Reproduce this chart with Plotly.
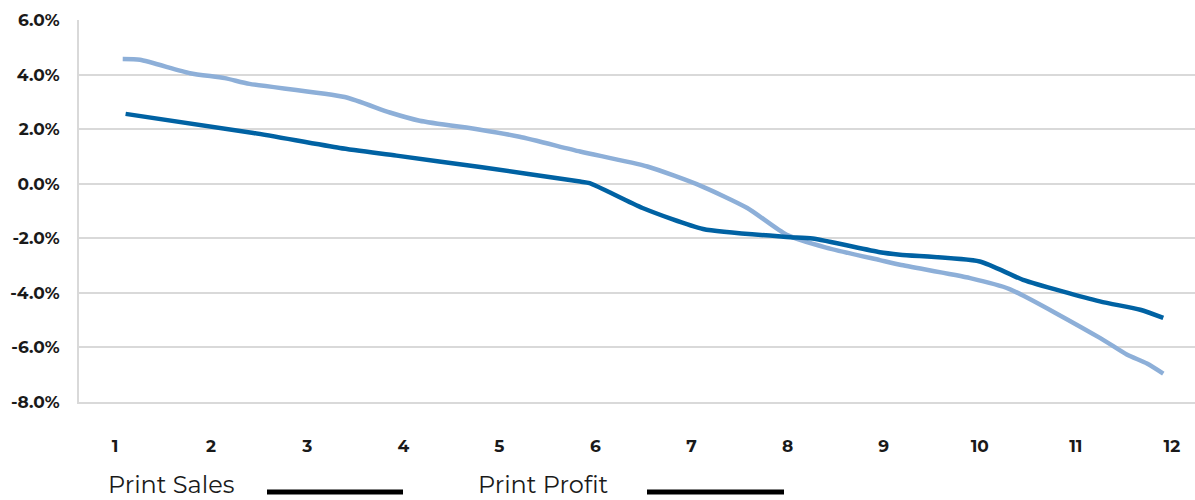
import plotly.graph_objects as go

# x positions (month index, fractional) and values in %
sales_x = [1.08, 1.26, 1.78, 2.14, 2.40, 3.39, 3.86, 4.17, 4.80, 5.21, 5.84, 6.54, 7.09, 7.58, 7.99, 8.40, 8.96, 9.17, 9.90, 10.31, 11.25, 11.53, 11.74, 11.91]
sales_y = [4.57, 4.54, 4.05, 3.87, 3.66, 3.18, 2.61, 2.31, 1.98, 1.72, 1.18, 0.63, -0.07, -0.89, -1.87, -2.34, -2.80, -2.97, -3.46, -3.86, -5.65, -6.26, -6.59, -6.96]

profit_x = [1.11, 2.44, 3.34, 3.93, 4.80, 5.84, 5.94, 6.49, 7.12, 7.99, 8.26, 8.96, 9.17, 10.00, 10.45, 11.25, 11.67, 11.91]
profit_y = [2.56, 1.86, 1.31, 1.03, 0.61, 0.08, 0.02, -0.89, -1.66, -1.95, -2.01, -2.51, -2.60, -2.85, -3.52, -4.31, -4.62, -4.92]

x_ticks = list(range(1, 13))
y_ticks = [-8, -6, -4, -2, 0, 2, 4, 6]
series_names = ["Print Sales", "Print Profit"]

FONT = "Montserrat, DejaVu Sans, sans-serif"

fig = go.Figure()
fig.add_trace(go.Scatter(x=sales_x, y=sales_y, mode="lines", name=series_names[0],
                         line=dict(color="#8DAFD8", width=4.5, shape="spline", smoothing=0.6)))
fig.add_trace(go.Scatter(x=profit_x, y=profit_y, mode="lines", name=series_names[1],
                         line=dict(color="#0062A3", width=4.5, shape="spline", smoothing=0.6)))

L, R, T, B = 79, 0, 20, 98
W, H = 1195, 500
pw = W - L - R
ph = H - T - B

def px(xp):
    return (xp - L) / pw

def py(yp):
    return (H - B - yp) / ph

# custom legend (text + black line samples)
legend_items = [(107, 267, 403), (477, 647, 784)]
for name, (tx, lx0, lx1) in zip(series_names, legend_items):
    fig.add_annotation(text=name, xref="paper", yref="paper", x=px(tx), y=py(500),
                       xanchor="left", yanchor="bottom", showarrow=False, borderpad=0,
                       font=dict(family=FONT, size=24, color="#1a1a1a"))
    fig.add_shape(type="line", xref="paper", yref="paper", x0=px(lx0), x1=px(lx1),
                  y0=py(492), y1=py(492), line=dict(color="#000000", width=5))

fig.update_layout(
    width=W, height=H,
    margin=dict(l=L, r=R, t=T, b=B, autoexpand=False),
    paper_bgcolor="white", plot_bgcolor="white",
    showlegend=False,
    font=dict(family=FONT, color="#1a1a1a"),
)
fig.update_xaxes(range=[0.625, 12.24], tickvals=x_ticks, ticktext=[str(v) for v in x_ticks],
                 showgrid=False, zeroline=False, showline=True, linecolor="#D9D9D9", linewidth=2,
                 tickfont=dict(family=FONT, size=17, color="#1a1a1a", weight="bold"),
                 ticklabelstandoff=28)
fig.update_yaxes(range=[-8, 6], tickvals=y_ticks, ticktext=[f"{v:.1f}%" for v in y_ticks],
                 showgrid=True, gridcolor="#D9D9D9", gridwidth=2, zeroline=False,
                 showline=True, linecolor="#D9D9D9", linewidth=2,
                 tickfont=dict(family=FONT, size=17, color="#1a1a1a", weight="bold"),
                 ticklabelstandoff=14)

fig.write_html("out.html")
